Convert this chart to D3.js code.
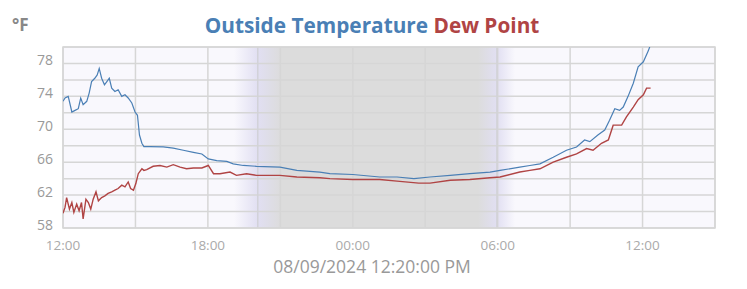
<!DOCTYPE html>
<html>
<head>
<meta charset="utf-8">
<script src="https://cdn.jsdelivr.net/npm/d3@7"></script>
<style>
  body { margin: 0; background: #fff; }
  text { font-family: "Open Sans", sans-serif; }
</style>
</head>
<body>
<div id="chart"></div>
<script>
// minutes after 08/08/2024 12:00
var tempMinutes = [0, 5, 13, 22, 30, 38, 44, 50, 59, 65, 71, 79, 85, 90, 96, 103, 109, 115, 121, 129, 137, 146, 154, 162, 171, 179, 185, 190, 196, 201,
  216, 249, 274, 299, 324, 345, 361, 382, 407, 423, 448, 481, 539, 581, 638, 663, 720, 787, 830, 872, 912, 962, 1011, 1061, 1086, 1135, 1160,
  1185, 1218, 1251, 1276, 1296, 1309, 1329, 1346, 1358, 1371, 1383, 1392, 1404, 1417, 1429, 1442, 1454, 1460];
var tempValues = [73.4, 73.8, 74.0, 72.1, 72.3, 72.5, 73.8, 73.0, 73.4, 74.4, 75.8, 76.2, 76.6, 77.4, 76.2, 75.4, 75.8, 76.2, 75.0, 74.6, 74.8, 74.0, 74.2, 73.8, 73.2, 72.1, 71.7, 69.3, 68.3, 67.9,
  67.9, 67.85, 67.7, 67.45, 67.2, 67.0, 66.4, 66.2, 66.1, 65.8, 65.6, 65.5, 65.4, 65.0, 64.8, 64.6, 64.5, 64.2, 64.2, 64.0, 64.2, 64.4, 64.6, 64.8, 65.0, 65.4, 65.6,
  65.8, 66.6, 67.45, 67.85, 68.7, 68.5, 69.3, 69.9, 71.1, 72.5, 72.3, 72.7, 74.0, 75.6, 77.6, 78.2, 79.5, 80.3];

var dewMinutes = [0, 5, 9, 16, 22, 27, 34, 40, 46, 50, 57, 63, 69, 75, 82, 88, 96, 104, 112, 121, 129, 137, 146, 154, 162, 168, 175, 181, 187, 196, 201,
  208, 224, 241, 258, 274, 291, 307, 324, 345, 361, 374, 390, 415, 431, 456, 481, 539, 581, 638, 663, 720, 787, 830, 884, 912, 962, 1011, 1061, 1086, 1135, 1160,
  1185, 1218, 1251, 1276, 1301, 1317, 1338, 1355, 1367, 1388, 1400, 1417, 1429, 1442, 1450, 1460];
var dewValues = [59.8, 60.5, 61.7, 60.3, 61.1, 59.9, 60.9, 60.1, 61.1, 59.1, 61.5, 61.1, 60.3, 61.5, 62.4, 61.3, 61.7, 61.9, 62.2, 62.4, 62.6, 62.8, 63.2, 63.0, 63.6, 62.8, 62.6, 63.4, 64.6, 65.2, 65.0,
  65.1, 65.5, 65.6, 65.4, 65.7, 65.4, 65.2, 65.3, 65.3, 65.6, 64.6, 64.6, 64.8, 64.4, 64.6, 64.4, 64.4, 64.2, 64.1, 64.0, 63.9, 63.9, 63.7, 63.45, 63.45, 63.8, 63.9, 64.1, 64.2, 64.8, 65.0,
  65.2, 66.0, 66.6, 67.0, 67.65, 67.45, 68.3, 68.7, 70.5, 70.5, 71.5, 72.7, 73.6, 74.2, 75.0, 75.0];

// dusk fade start, sunset, dark, dawn start, sunrise, day (minutes after start)
var twilightMinutes = [425, 484, 542, 1031, 1078, 1123];
var sunLines = [484, 1078];

var yTicks = [58, 60, 62, 64, 66, 68, 70, 72, 74, 76, 78, 80];
var yLabels = [58, 62, 66, 70, 74, 78];

var titleParts = [
  { text: 'Outside Temperature', clr: '#4a7fb5' },
  { text: ' Dew Point', clr: '#b04444' }
];
var dateLabel = '08/09/2024 12:20:00 PM';

var width = 747, height = 289;
var margin = { top: 47, right: 32, bottom: 61, left: 63 };
var w = width - margin.left - margin.right;
var h = height - margin.top - margin.bottom;

var start = new Date(2024, 7, 8, 12, 0);
function toDate(m) { return new Date(start.getTime() + m * 60000); }

var x = d3.scaleTime()
  .domain([start, toDate(27 * 60)])
  .range([0, w]);
var y = d3.scaleLinear()
  .domain([58, 80])
  .range([h, 0]);

var svg = d3.select('#chart').append('svg')
  .attr('width', width)
  .attr('height', height);

var defs = svg.append('defs');
var grad = defs.append('linearGradient')
  .attr('id', 'night')
  .attr('gradientUnits', 'userSpaceOnUse')
  .attr('x1', 0).attr('x2', w).attr('y1', 0).attr('y2', 0);
var bg = '#f9f8fd', lav = '#e1dff2', gray = '#dcdcdc';
var stopColors = [bg, lav, gray, gray, lav, bg];
twilightMinutes.forEach(function (m, i) {
  grad.append('stop')
    .attr('offset', x(toDate(m)) / w)
    .attr('stop-color', stopColors[i]);
});

defs.append('clipPath').attr('id', 'clip')
  .append('rect').attr('width', w).attr('height', h);

var g = svg.append('g')
  .attr('transform', 'translate(' + margin.left + ',' + margin.top + ')');

g.append('rect')
  .attr('width', w)
  .attr('height', h)
  .style('fill', 'url(#night)');

var gridClr = '#d6d6d6';

// horizontal grid
g.selectAll('line.hgrid')
  .data(yTicks)
  .enter().append('line')
  .attr('class', 'hgrid')
  .attr('x1', 0).attr('x2', w)
  .attr('y1', d => y(d)).attr('y2', d => y(d))
  .style('stroke', gridClr)
  .style('stroke-width', 1.5);

// vertical grid every 3 hours
g.selectAll('line.vgrid')
  .data(x.ticks(d3.timeHour.every(3)))
  .enter().append('line')
  .attr('class', 'vgrid')
  .attr('x1', d => x(d)).attr('x2', d => x(d))
  .attr('y1', 0).attr('y2', h)
  .style('stroke', gridClr)
  .style('stroke-width', 1.5);

g.selectAll('line.sun')
  .data(sunLines)
  .enter().append('line')
  .attr('class', 'sun')
  .attr('x1', d => x(toDate(d))).attr('x2', d => x(toDate(d)))
  .attr('y1', 0).attr('y2', h)
  .style('stroke', '#d2d2d8')
  .style('stroke-width', 1.5);

g.append('rect')
  .attr('width', w)
  .attr('height', h)
  .style('fill', 'none')
  .style('stroke', gridClr)
  .style('stroke-width', 1.5);

var line = d3.line()
  .x(d => x(toDate(d[0])))
  .y(d => y(d[1]));

var plotArea = g.append('g').attr('clip-path', 'url(#clip)');

plotArea.append('path')
  .datum(d3.zip(dewMinutes, dewValues))
  .attr('d', line)
  .style('fill', 'none')
  .style('stroke', '#b04444')
  .style('stroke-width', 1.4);

plotArea.append('path')
  .datum(d3.zip(tempMinutes, tempValues))
  .attr('d', line)
  .style('fill', 'none')
  .style('stroke', '#4a7fb5')
  .style('stroke-width', 1.2);

// y labels
g.selectAll('text.ylab')
  .data(yLabels)
  .enter().append('text')
  .attr('class', 'ylab')
  .attr('x', -10)
  .attr('y', d => y(d) + 1.5)
  .attr('text-anchor', 'end')
  .attr('font-size', 14)
  .style('fill', '#999')
  .text(d => d);

// x labels every 6 hours
g.selectAll('text.xlab')
  .data(x.ticks(d3.timeHour.every(6)))
  .enter().append('text')
  .attr('class', 'xlab')
  .attr('x', d => x(d))
  .attr('y', h + 22)
  .attr('text-anchor', 'middle')
  .attr('font-size', 13.5)
  .style('fill', '#aaa')
  .text(d3.timeFormat('%H:%M'));

svg.append('text')
  .attr('x', 12)
  .attr('y', 30.5)
  .attr('font-size', 17)
  .attr('font-weight', 'bold')
  .style('fill', '#888')
  .text('°F');

var title = svg.append('text')
  .attr('x', 372)
  .attr('y', 33)
  .attr('text-anchor', 'middle')
  .attr('font-size', 20.8)
  .attr('font-weight', 'bold');
title.selectAll('tspan')
  .data(titleParts)
  .enter().append('tspan')
  .style('fill', d => d.clr)
  .style('white-space', 'pre')
  .text(d => d.text);

svg.append('text')
  .attr('x', 372)
  .attr('y', 273)
  .attr('text-anchor', 'middle')
  .attr('font-size', 17.5)
  .style('fill', '#999')
  .text(dateLabel);
</script>
</body>
</html>
